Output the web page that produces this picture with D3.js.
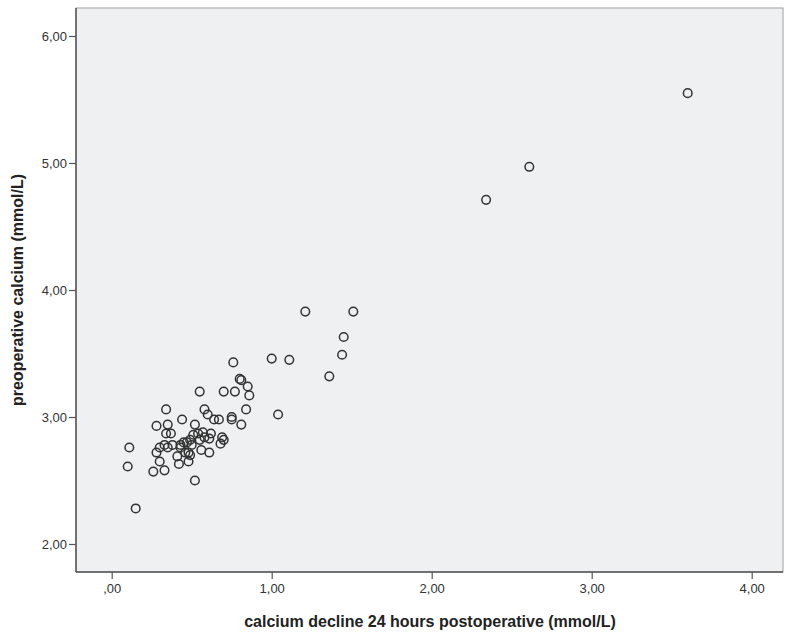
<!DOCTYPE html>
<html>
<head>
<meta charset="UTF-8">
<script src="https://d3js.org/d3.v7.min.js"></script>
<style>
  body { margin: 0; background: #fff; font-family: "Liberation Sans", Arial, sans-serif; }
  .tick text { font-size: 13px; fill: #333; }
  .axis-title { font-size: 16px; font-weight: bold; fill: #222; }
</style>
</head>
<body>
<svg id="chart" width="785" height="635"></svg>
<script>
// calcium decline 24 h postoperative (mmol/L)
var decline = [3.60, 2.61, 2.34, 1.51, 1.21, 1.45, 1.44, 1.36, 1.11, 1.00,
               1.04, 0.76, 0.80, 0.81, 0.85, 0.55, 0.70, 0.77, 0.86, 0.34,
               0.58, 0.84, 0.60, 0.75, 0.75, 0.44, 0.64, 0.67, 0.28, 0.35,
               0.52, 0.81, 0.34, 0.37, 0.57, 0.62, 0.69, 0.70, 0.68, 0.11,
               0.10, 0.15, 0.26, 0.33, 0.52, 0.30, 0.42, 0.48, 0.41, 0.48,
               0.56, 0.61, 0.51, 0.54, 0.49, 0.47, 0.45, 0.61, 0.58, 0.55,
               0.50, 0.46, 0.49, 0.43, 0.28, 0.30, 0.33, 0.35, 0.38, 0.43];
// preoperative calcium (mmol/L)
var preop   = [5.55, 4.97, 4.71, 3.83, 3.83, 3.63, 3.49, 3.32, 3.45, 3.46,
               3.02, 3.43, 3.30, 3.29, 3.24, 3.20, 3.20, 3.20, 3.17, 3.06,
               3.06, 3.06, 3.02, 3.00, 2.98, 2.98, 2.98, 2.98, 2.93, 2.94,
               2.94, 2.94, 2.87, 2.87, 2.88, 2.87, 2.84, 2.82, 2.79, 2.76,
               2.61, 2.28, 2.57, 2.58, 2.50, 2.65, 2.63, 2.65, 2.69, 2.72,
               2.74, 2.72, 2.86, 2.87, 2.82, 2.80, 2.80, 2.83, 2.84, 2.82,
               2.78, 2.72, 2.70, 2.76, 2.72, 2.76, 2.78, 2.76, 2.78, 2.78];
var xTicks = [0, 1, 2, 3, 4];
var yTicks = [2, 3, 4, 5, 6];

var points = decline.map(function(d, i) { return {x: d, y: preop[i]}; });

var svg = d3.select('#chart');
var plotL = 76, plotR = 783, plotT = 8, plotB = 572;

var x = d3.scaleLinear().domain([0, 4]).range([111.7, 751.7]);
var y = d3.scaleLinear().domain([2, 6]).range([544, 36]);

function fmt(d) {
  return d3.format('.2f')(d).replace('.', ',').replace(/^0,/, ',');
}

svg.append('rect')
  .attr('x', plotL).attr('y', plotT)
  .attr('width', plotR - plotL).attr('height', plotB - plotT)
  .attr('fill', '#eff0f2')
  .attr('stroke', '#a0a0a0')
  .attr('stroke-width', 1);

var xAxis = svg.append('g')
  .attr('transform', 'translate(0,' + plotB + ')')
  .call(d3.axisBottom(x).tickValues(xTicks).tickFormat(fmt).tickSize(7).tickPadding(5));
xAxis.select('.domain').attr('d', 'M' + plotL + ',0H' + plotR);

var yAxis = svg.append('g')
  .attr('transform', 'translate(' + plotL + ',0)')
  .call(d3.axisLeft(y).tickValues(yTicks).tickFormat(fmt).tickSize(7).tickPadding(2));
yAxis.select('.domain').attr('d', 'M0,' + plotT + 'V' + plotB);

svg.selectAll('.domain').attr('stroke', '#555').attr('stroke-width', 1.5);
svg.selectAll('.tick line').attr('stroke', '#555').attr('stroke-width', 1.2);

svg.append('g').selectAll('circle')
  .data(points)
  .join('circle')
  .attr('cx', function(d) { return x(d.x); })
  .attr('cy', function(d) { return y(d.y); })
  .attr('r', 4.3)
  .attr('fill', 'none')
  .attr('stroke', '#333')
  .attr('stroke-width', 1.5);

svg.append('text')
  .attr('class', 'axis-title')
  .attr('x', 430).attr('y', 627)
  .attr('text-anchor', 'middle')
  .text('calcium decline 24 hours postoperative (mmol/L)');

svg.append('text')
  .attr('class', 'axis-title')
  .attr('transform', 'translate(23,290) rotate(-90)')
  .attr('text-anchor', 'middle')
  .text('preoperative calcium (mmol/L)');
</script>
</body>
</html>
